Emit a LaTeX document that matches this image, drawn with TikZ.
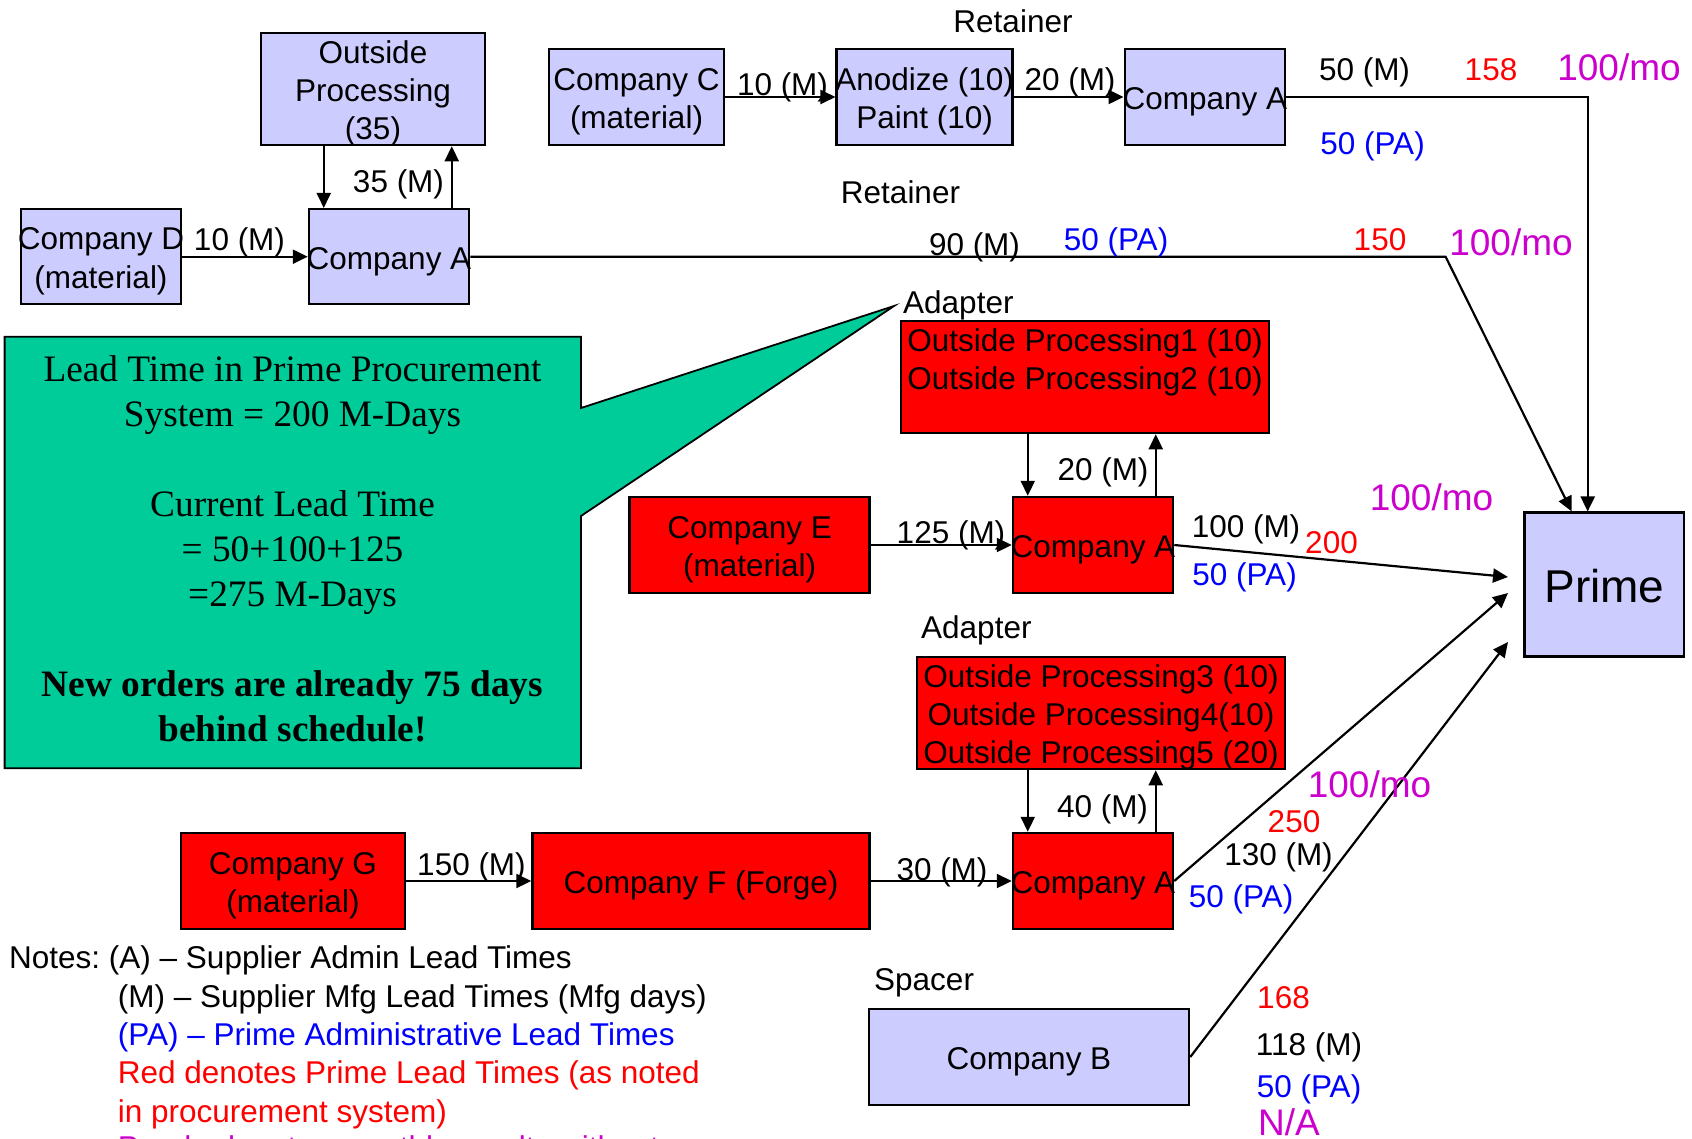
\documentclass[tikz,border=0pt]{standalone}
\usepackage{fontspec}
\setmainfont{Liberation Sans}
\newfontfamily\calloutfont{Liberation Serif}
\usetikzlibrary{arrows.meta,calc}

\definecolor{lav}{HTML}{CCCCFF}
\definecolor{boxred}{HTML}{FF0000}
\definecolor{calloutgreen}{HTML}{00CC99}
\definecolor{pablue}{HTML}{0000FF}
\definecolor{ratepurple}{HTML}{CC00CC}

% one line of box text: zero width (the box keeps its own size even when
% the text runs over its border) and a fixed line height for even centring
\newcommand\bx[1]{\makebox[0pt][c]{\rule[-0.21em]{0pt}{1.21em}#1}}

\frenchspacing
\begin{document}
\begin{tikzpicture}[x=1pt,y=-1pt,
  box/.style={draw=black, line width=2.5pt, inner xsep=0pt, inner ysep=-6pt, align=center,
    font=\fontsize{31.5}{38.3}\selectfont},
  bluebox/.style={box, fill=lav},
  redbox/.style={box, fill=boxred},
  lbl/.style={inner sep=0pt, anchor=base, font=\fontsize{31.5}{38.3}\selectfont},
  lblw/.style={lbl, anchor=base west},
  palbl/.style={lbl, text=pablue},
  ptlbl/.style={lbl, text=boxred},
  ratelbl/.style={lbl, text=ratepurple, font=\fontsize{37}{44}\selectfont},
  link/.style={line width=2.2pt},
  arr/.style={link, -{Triangle[length=15pt,width=14pt]}},
]
\useasboundingbox (0,0) rectangle (1692,1138);

% ---------- callout ----------
\draw[fill=calloutgreen, line width=1.8pt]
  (4.6,336.7) -- (581,336.7) -- (581,408) -- (894,306) -- (581,516)
  -- (581,768.3) -- (4.6,768.3) -- cycle;
\node[inner sep=0pt, align=center, anchor=north,
      font=\calloutfont\fontsize{37.3}{45}\selectfont] (calltext) at (292.5,350.2)
  {\strut Lead Time in Prime Procurement\strut\\
   \strut System = 200 M-Days\strut\\
   \strut\\
   \strut Current Lead Time\strut\\
   \strut = 50+100+125\strut\\
   \strut =275 M-Days\strut\\
   \strut\\
   \strut\textbf{New orders are already 75 days}\strut\\
   \strut\textbf{behind schedule!}\strut};

% ---------- boxes ----------
\node[bluebox, minimum width=224pt, minimum height=112pt] (op0) at (373,89)
  {\bx{Outside}\\\bx{Processing}\\\bx{(35)}};
\node[bluebox, minimum width=175pt, minimum height=96pt] (cC) at (636.5,97)
  {\bx{Company C}\\\bx{(material)}};
\node[bluebox, minimum width=176pt, minimum height=96pt] (anod) at (924.7,97)
  {\bx{Anodize (10)}\\\bx{Paint (10)}};
\node[bluebox, minimum width=160pt, minimum height=96pt] (cAtop) at (1204.8,97)
  {\bx{Company A}};
\node[bluebox, minimum width=160pt, minimum height=95pt] (cD) at (101,256.7)
  {\bx{Company D}\\\bx{(material)}};
\node[bluebox, minimum width=160pt, minimum height=95pt] (cA2) at (389,256.7)
  {\bx{Company A}};

\node[redbox, minimum width=368pt, minimum height=112pt] (opA) at (1085,377)
  {\bx{Outside Processing1 (10)}\\\bx{Outside Processing2 (10)}\\\bx{}};
\node[redbox, minimum width=240pt, minimum height=96pt] (cE) at (749.7,545)
  {\bx{Company E}\\\bx{(material)}};
\node[redbox, minimum width=160pt, minimum height=96pt] (cA3) at (1093,545)
  {\bx{Company A}};

\node[redbox, minimum width=368pt, minimum height=112pt] (opB) at (1101,713)
  {\bx{Outside Processing3 (10)}\\\bx{Outside Processing4(10)}\\\bx{Outside Processing5 (20)}};
\node[redbox, minimum width=224pt, minimum height=96pt] (cG) at (293,881)
  {\bx{Company G}\\\bx{(material)}};
\node[redbox, minimum width=337pt, minimum height=96pt] (cF) at (701,881)
  {\bx{Company F (Forge)}};
\node[redbox, minimum width=160pt, minimum height=96pt] (cA4) at (1093,881)
  {\bx{Company A}};

\node[bluebox, minimum width=320pt, minimum height=96pt] (cB) at (1029,1057)
  {\bx{Company B}};
\node[bluebox, minimum width=159.5pt, minimum height=144pt,
      font=\fontsize{46}{52}\selectfont] (prime) at (1604.4,584.7) {\bx{Prime}};

% ---------- part names ----------
\node[lbl] (ret1) at (1013,32) {Retainer};
\node[lbl] (ret2) at (900.5,203) {Retainer};
\node[lblw] (adp1) at (903,313) {Adapter};
\node[lblw] (adp2) at (921,638) {Adapter};
\node[lblw] (spc) at (874,990) {Spacer};

% ---------- free ends and bends ----------
\coordinate (kink) at (1445.6,256.7);
\coordinate (in1) at (1508,577);
\coordinate (in2) at (1508,593);
\coordinate (in3) at (1508,642);

% ---------- supply connectors ----------
\draw[arr] ($(op0.south west)+(64,0)$) -- ($(cA2.north west)+(16,0)$);
\draw[arr] ($(cA2.north west)+(144,0)$) -- ($(op0.south west)+(192,0)$);
\draw[arr] (cD.east) -- (cA2.west);
\draw[arr] (cC.east) -- (anod.west);
\draw[arr] (anod.east) -- (cAtop.west);

\draw[arr] ($(opA.south west)+(128,0)$) -- ($(cA3.north west)+(16,0)$);
\draw[arr] ($(cA3.north west)+(144,0)$) -- ($(opA.south west)+(256,0)$);
\draw[arr] (cE.east) -- (cA3.west);

\draw[arr] ($(opB.south west)+(112,0)$) -- ($(cA4.north west)+(16,0)$);
\draw[arr] ($(cA4.north west)+(144,0)$) -- ($(opB.south west)+(240,0)$);
\draw[arr] (cG.east) -- (cF.west);
\draw[arr] (cF.east) -- (cA4.west);

% ---------- deliveries to Prime ----------
\draw[arr] (cAtop.east) -| ($(prime.north west)+(64.3,0)$);
\draw[arr] (cA2.east) -- (kink) -- ($(prime.north west)+(48.3,0)$);
\draw[arr] (cA3.east) -- (in1);
\draw[arr] (cA4.east) -- (in2);
\draw[arr] (cB.east) -- (in3);

% ---------- lead time labels ----------
\node[lbl] (l35) at (398.5,192) {35 (M)};
\node[lbl] (l10d) at (239.5,250) {10 (M)};
\node[lbl] (l10c) at (782.5,95) {10 (M)};
\node[lbl] (l20a) at (1070,90) {20 (M)};

\node[lbl] (t1m) at (1364.5,80) {50 (M)};
\node[ptlbl] (t1p) at (1491,80) {158};
\node[ratelbl] (t1r) at (1619,80) {100/mo};
\node[palbl] (t1a) at (1372.5,154) {50 (PA)};

\node[lbl] (t2m) at (974.5,255) {90 (M)};
\node[palbl] (t2a) at (1116,250) {50 (PA)};
\node[ptlbl] (t2p) at (1380,250) {150};
\node[ratelbl] (t2r) at (1511,255) {100/mo};

\node[lbl] (l20b) at (1103,480) {20 (M)};
\node[lbl] (l125) at (951,543) {125 (M)};
\node[lbl] (t3m) at (1246,537) {100 (M)};
\node[ptlbl] (t3p) at (1331.5,553) {200};
\node[palbl] (t3a) at (1244.5,585) {50 (PA)};
\node[ratelbl] (t3r) at (1431.5,510) {100/mo};

\node[lbl] (l40) at (1102.5,817) {40 (M)};
\node[lbl] (l150) at (471.5,875) {150 (M)};
\node[lbl] (l30) at (942,880) {30 (M)};
\node[ratelbl] (t4r) at (1369.5,797) {100/mo};
\node[ptlbl] (t4p) at (1294,832) {250};
\node[lbl] (t4m) at (1278.5,865) {130 (M)};
\node[palbl] (t4a) at (1241,907) {50 (PA)};

\node[ptlbl] (t5p) at (1283.5,1008) {168};
\node[lbl] (t5m) at (1309,1055) {118 (M)};
\node[palbl] (t5a) at (1309,1097) {50 (PA)};
\node[ratelbl, anchor=base west] (t5r) at (1258,1135) {N/A};

% ---------- notes ----------
\node[lblw] (n1) at (9,968) {Notes: (A) – Supplier Admin Lead Times};
\node[lblw] (n2) at (117.7,1007) {(M) – Supplier Mfg Lead Times (Mfg days)};
\node[lblw, text=pablue] (n3) at (117.7,1045) {(PA) – Prime Administrative Lead Times};
\node[lblw, text=boxred] (n4) at (117.7,1083) {Red denotes Prime Lead Times (as noted};
\node[lblw, text=boxred] (n5) at (117.7,1122) {in procurement system)};
\node[lblw, text=ratepurple] (n6) at (117.7,1158) {Purple denotes monthly results without};
\end{tikzpicture}
\end{document}
